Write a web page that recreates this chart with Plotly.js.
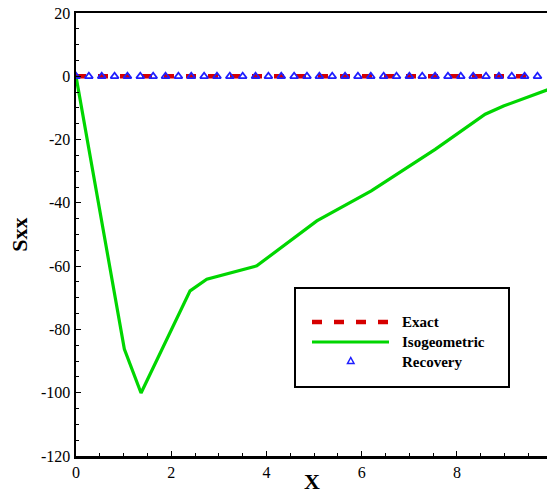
<!DOCTYPE html>
<html>
<head>
<meta charset="utf-8">
<script src="https://cdn.plot.ly/plotly-3.0.1.min.js"></script>
<style>html,body{margin:0;padding:0;background:#fff;}#chart{width:547px;height:496px;}</style>
</head>
<body>
<div id="chart"></div>
<script>
// Exact solution (Sxx = 0 along the line)
const exactX = [0, 9.69];
const exactY = [0, 0];

// Isogeometric solution
const isoX = [0, 1.015, 1.366, 2.395, 2.746, 3.796, 5.057, 6.2, 7.542, 8.592, 8.977, 9.889, 10.0];
const isoY = [0, -86.2, -100.1, -67.8, -64.1, -59.9, -45.7, -36.2, -23.1, -12.0, -9.4, -4.3, -3.7];

// Recovery points
const recX = [0, 0.27, 0.54, 0.81, 1.08, 1.35, 1.62, 1.88, 2.15, 2.42, 2.69, 2.96, 3.23, 3.50, 3.77,
  4.04, 4.31, 4.58, 4.85, 5.11, 5.38, 5.65, 5.92, 6.19, 6.46, 6.73, 7.00, 7.27, 7.54, 7.81,
  8.08, 8.34, 8.61, 8.88, 9.15, 9.42, 9.69];
const recY = [0, 0, 0, 0, 0, 0, 0, 0, 0, 0, 0, 0, 0, 0, 0, 0, 0, 0, 0, 0, 0, 0, 0, 0, 0, 0, 0, 0,
  0, 0, 0, 0, 0, 0, 0, 0, 0];

const seriesNames = ['Exact', 'Isogeometric', 'Recovery'];

// Tick labels
const xTickVals = [0, 2, 4, 6, 8];
const xTickText = ['0', '2', '4', '6', '8'];
const yTickVals = [20, 0, -20, -40, -60, -80, -100, -120];
const yTickText = ['20', '0', '-20', '-40', '-60', '-80', '-100', '-120'];

const RED = 'rgb(214,0,0)';
const GREEN = 'rgb(0,214,0)';
const BLUE = 'rgb(30,30,255)';
const FONT = 'Liberation Serif';

// pixel -> paper helpers for the hand-drawn legend box
const L = 76, R = 547, T = 13, B = 456;
const px = x => (x - L) / (R - L);
const py = y => (B - y) / (B - T);

const traces = [
  {x: exactX, y: exactY, mode: 'lines', name: seriesNames[0],
   line: {color: RED, width: 4.5, dash: '10px,12px'}},
  {x: isoX, y: isoY, mode: 'lines', name: seriesNames[1],
   line: {color: GREEN, width: 3.2}},
  {x: recX, y: recY, mode: 'markers', name: seriesNames[2],
   marker: {symbol: 'triangle-up-open', size: 7, color: BLUE, line: {width: 1.8, color: BLUE}}}
];

const legendShapes = [
  {type: 'rect', xref: 'paper', yref: 'paper', x0: px(295), x1: px(509), y0: py(387), y1: py(288),
   line: {color: 'black', width: 2}, fillcolor: 'white', layer: 'above'},
  {type: 'line', xref: 'paper', yref: 'paper', x0: px(312), x1: px(389), y0: py(322), y1: py(322),
   line: {color: RED, width: 4.5, dash: '10px,12px'}, layer: 'above'},
  {type: 'line', xref: 'paper', yref: 'paper', x0: px(312), x1: px(389), y0: py(342), y1: py(342),
   line: {color: GREEN, width: 3.2}, layer: 'above'},
  {type: 'path', xref: 'paper', yref: 'paper', layer: 'above',
   path: `M ${px(347.5)} ${py(363.5)} L ${px(354)} ${py(363.5)} L ${px(350.75)} ${py(357.5)} Z`,
   line: {color: BLUE, width: 1.5}}
];

const legendAnn = seriesNames.map((n, i) => ({
  text: '<b>' + n + '</b>', xref: 'paper', yref: 'paper', x: px(400), y: py(322 + 20 * i),
  xanchor: 'left', yanchor: 'middle', showarrow: false,
  font: {family: FONT, size: 15, color: 'black'}
}));

// X axis title placed as an annotation, its box resting on the bottom edge of the picture
const xTitleAnn = {
  text: '<b>X</b>', xref: 'paper', yref: 'paper', x: 0.5, y: py(496),
  xanchor: 'center', yanchor: 'bottom', showarrow: false,
  font: {family: FONT, size: 22, color: 'black'}
};

const layout = {
  width: 547, height: 496,
  margin: {l: L, r: 547 - R, t: T, b: 496 - B},
  paper_bgcolor: 'white', plot_bgcolor: 'white',
  showlegend: false,
  font: {family: FONT, size: 16, color: 'black'},
  xaxis: {
    range: [0, 9.89], showgrid: false, zeroline: false,
    tickmode: 'array', tickvals: xTickVals, ticktext: xTickText,
    ticks: 'inside', ticklen: 5, tickwidth: 1, tickcolor: 'black',
    minor: {dtick: 0.5, tick0: 0, ticks: 'inside', ticklen: 3, tickwidth: 1, tickcolor: 'black'},
    showline: true, linecolor: 'black', linewidth: 2.5, mirror: true,
    tickfont: {family: FONT, size: 16, color: 'black'}
  },
  yaxis: {
    range: [-120, 20], showgrid: false, zeroline: false,
    tickmode: 'array', tickvals: yTickVals, ticktext: yTickText,
    ticks: 'inside', ticklen: 5, tickwidth: 1, tickcolor: 'black',
    minor: {dtick: 5, tick0: 0, ticks: 'inside', ticklen: 3, tickwidth: 1, tickcolor: 'black'},
    showline: true, linecolor: 'black', linewidth: 2.5, mirror: true,
    tickfont: {family: FONT, size: 16, color: 'black'},
    title: {text: '<b>Sxx</b>', font: {family: FONT, size: 22, color: 'black'}, standoff: 8}
  },
  shapes: legendShapes,
  annotations: legendAnn.concat([xTitleAnn])
};

Plotly.newPlot('chart', traces, layout, {staticPlot: true, displayModeBar: false});
</script>
</body>
</html>
